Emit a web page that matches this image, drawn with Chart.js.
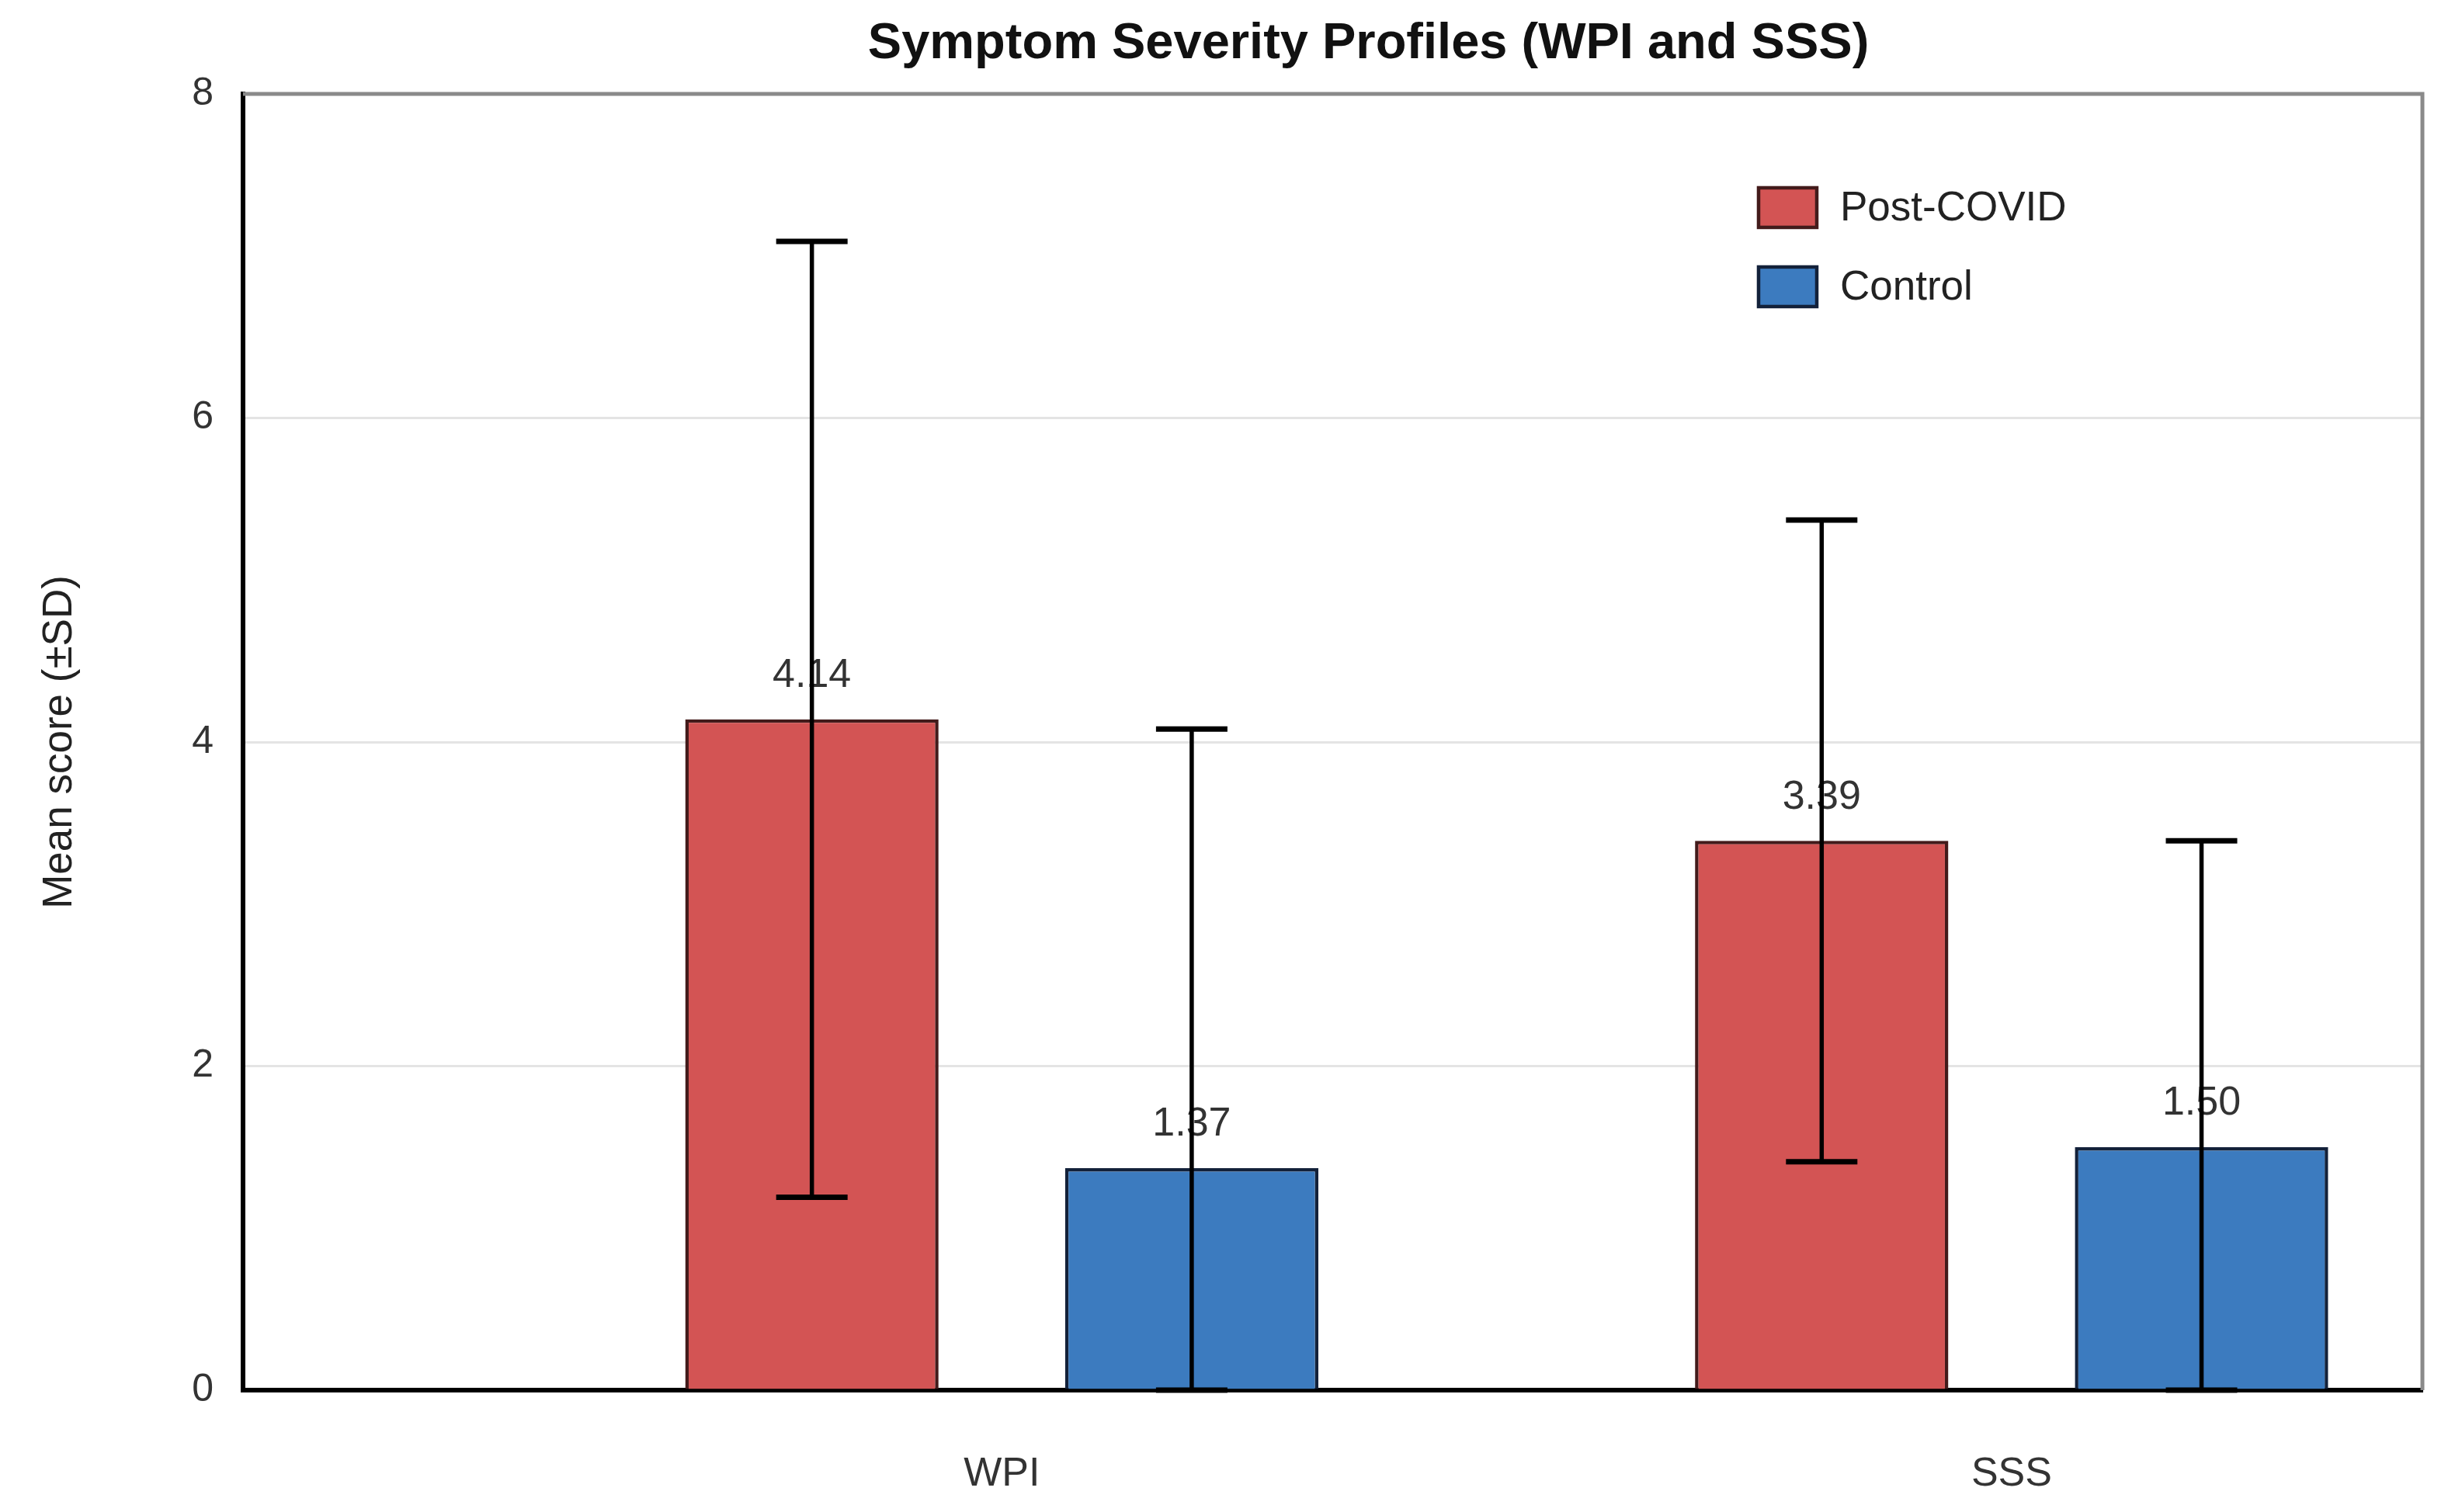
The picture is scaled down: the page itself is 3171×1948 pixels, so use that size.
<!DOCTYPE html>
<html>
<head>
<meta charset="utf-8">
<script src="https://cdn.jsdelivr.net/npm/chart.js@4.4.1/dist/chart.umd.min.js"></script>
<style>
html,body{margin:0;padding:0;background:#ffffff;}
#wrap{width:3171px;height:1948px;position:relative;background:#ffffff;}
</style>
</head>
<body>
<div id="wrap"><canvas id="c" width="3171" height="1948"></canvas></div>
<script>
// ---- data ----
const chartTitle = 'Symptom Severity Profiles (WPI and SSS)';
const yAxisTitle = 'Mean score (±SD)';
const categories = ['WPI', 'SSS'];
const seriesNames = ['Post-COVID', 'Control'];
const postCovidMean = [4.14, 3.39];
const postCovidSD = [2.95, 1.98];
const controlMean = [1.37, 1.50];
const controlSD = [2.71, 1.89];
const yTicks = [0, 2, 4, 6, 8];

const FONT = '"Liberation Sans", Arial, Helvetica, sans-serif';
Chart.defaults.font.family = FONT;

const titlePlugin = {
  id: 'offsetTitle',
  afterDraw(chart) {
    const ctx = chart.ctx;
    const a = chart.chartArea;
    ctx.save();
    ctx.fillStyle = '#111111';
    ctx.font = 'bold 65px ' + FONT;
    ctx.textAlign = 'center';
    ctx.textBaseline = 'middle';
    ctx.fillText(chartTitle, (a.left + a.right) / 2 + 0.0164 * (a.right - a.left), 57);
    ctx.restore();
  }
};

const errorBarPlugin = {
  id: 'errorBars',
  afterDatasetsDraw(chart) {
    const ctx = chart.ctx;
    const yS = chart.scales.y;
    chart.data.datasets.forEach((ds, di) => {
      const meta = chart.getDatasetMeta(di);
      meta.data.forEach((bar, i) => {
        const m = ds.data[i].y;
        const sd = ds.errors[i];
        // value label
        ctx.save();
        ctx.fillStyle = '#333333';
        ctx.font = '52px ' + FONT;
        ctx.textAlign = 'center';
        ctx.textBaseline = 'middle';
        ctx.fillText(m.toFixed(2), bar.x, bar.y - 56);
        ctx.restore();
        // error bar
        const top = yS.getPixelForValue(m + sd);
        const bot = yS.getPixelForValue(Math.max(0, m - sd));
        const half = 46;
        ctx.save();
        ctx.strokeStyle = '#000000';
        ctx.lineWidth = 5.5;
        ctx.beginPath();
        ctx.moveTo(bar.x, top);
        ctx.lineTo(bar.x, bot);
        ctx.stroke();
        ctx.lineWidth = 7;
        ctx.beginPath();
        ctx.moveTo(bar.x - half, top);
        ctx.lineTo(bar.x + half, top);
        ctx.moveTo(bar.x - half, bot);
        ctx.lineTo(bar.x + half, bot);
        ctx.stroke();
        ctx.restore();
      });
    });
  }
};

const framePlugin = {
  id: 'frame',
  beforeDatasetsDraw(chart) {
    const ctx = chart.ctx;
    const a = chart.chartArea;
    ctx.save();
    ctx.strokeStyle = '#8a8a8a';
    ctx.lineWidth = 5;
    ctx.beginPath();
    ctx.moveTo(a.left, a.top);
    ctx.lineTo(a.right, a.top);
    ctx.lineTo(a.right, a.bottom);
    ctx.stroke();
    ctx.restore();
  }
};

const legendPlugin = {
  id: 'insideLegend',
  afterDraw(chart) {
    const ctx = chart.ctx;
    const a = chart.chartArea;
    const x0 = a.left + 0.6954 * (a.right - a.left);
    const y0 = a.top + 0.0877 * (a.bottom - a.top);
    const rowGap = 102;
    const bw = 75, bh = 51;
    chart.data.datasets.forEach((ds, i) => {
      const cy = y0 + i * rowGap;
      ctx.save();
      ctx.fillStyle = ds.backgroundColor;
      ctx.fillRect(x0, cy - bh / 2, bw, bh);
      ctx.strokeStyle = ds.borderColor;
      ctx.lineWidth = 4.5;
      ctx.strokeRect(x0, cy - bh / 2, bw, bh);
      ctx.fillStyle = '#222222';
      ctx.font = '53px ' + FONT;
      ctx.textAlign = 'left';
      ctx.textBaseline = 'middle';
      ctx.fillText(ds.label, x0 + bw + 30, cy + 2);
      ctx.restore();
    });
  }
};

new Chart(document.getElementById('c'), {
  type: 'bar',
  data: {
    datasets: [
      {
        label: seriesNames[0],
        data: postCovidMean.map((v, i) => ({ x: i, y: v })),
        errors: postCovidSD,
        backgroundColor: '#d35454',
        borderColor: '#431b1b',
        borderWidth: 4.5,
        categoryPercentage: 0.7523,
        barPercentage: 0.667
      },
      {
        label: seriesNames[1],
        data: controlMean.map((v, i) => ({ x: i, y: v })),
        errors: controlSD,
        backgroundColor: '#3c7bbf',
        borderColor: '#13213a',
        borderWidth: 4.5,
        categoryPercentage: 0.7523,
        barPercentage: 0.667
      }
    ]
  },
  options: {
    responsive: false,
    devicePixelRatio: 1,
    animation: false,
    layout: { padding: { left: 0, right: 51, top: 121, bottom: 0 } },
    plugins: {
      legend: { display: false },
      tooltip: { enabled: false },
      title: { display: false }
    },
    scales: {
      x: {
        type: 'linear',
        min: -0.7514,
        max: 1.4068,
        offset: false,
        afterBuildTicks: s => { s.ticks = categories.map((c, i) => ({ value: i })); },
        ticks: {
          callback: v => (categories[v] !== undefined ? categories[v] : ''),
          padding: 77,
          color: '#333333',
          font: { size: 52 },
          autoSkip: false,
          maxRotation: 0
        },
        grid: { display: false, drawTicks: false, offset: false },
        border: { color: '#000000', width: 6 },
        afterFit: s => { s.height = 157; }
      },
      y: {
        min: 0,
        max: 8,
        afterBuildTicks: s => { s.ticks = yTicks.map(v => ({ value: v })); },
        ticks: { padding: 38, color: '#333333', font: { size: 50 } },
        grid: {
          drawTicks: false,
          lineWidth: 3,
          color: c => (c.tick && (c.tick.value === 0 || c.tick.value === 8)) ? 'rgba(0,0,0,0)' : '#e4e4e4'
        },
        border: { color: '#000000', width: 6 },
        title: {
          display: true,
          text: yAxisTitle,
          color: '#222222',
          font: { size: 53 },
          padding: { top: 46, bottom: 0 }
        },
        afterFit: s => { s.width = 313; }
      }
    }
  },
  plugins: [framePlugin, errorBarPlugin, legendPlugin, titlePlugin]
});
</script>
</body>
</html>
